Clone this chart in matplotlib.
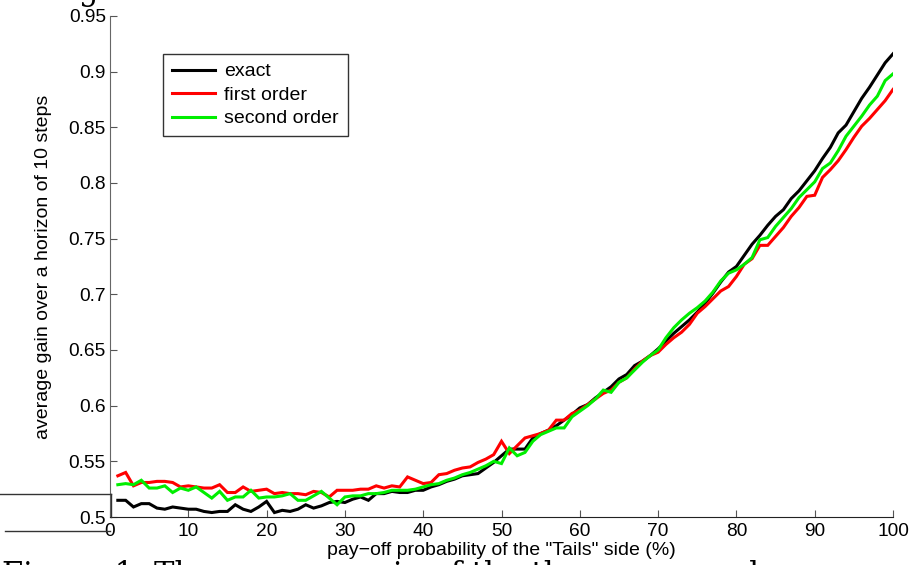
import numpy as np
import matplotlib
matplotlib.use("Agg")
import matplotlib.pyplot as plt
from matplotlib.lines import Line2D

x = list(range(1, 101))

exact = [0.515, 0.515, 0.509, 0.512, 0.512, 0.508, 0.507, 0.509, 0.508, 0.507,
         0.507, 0.505, 0.504, 0.505, 0.505, 0.511, 0.507, 0.505, 0.509, 0.514,
         0.504, 0.506, 0.505, 0.507, 0.511, 0.508, 0.510, 0.513, 0.514, 0.513,
         0.516, 0.518, 0.515, 0.521, 0.521, 0.523, 0.522, 0.522, 0.524, 0.524,
         0.527, 0.529, 0.532, 0.534, 0.537, 0.538, 0.539, 0.544, 0.549, 0.555,
         0.561, 0.561, 0.561, 0.571, 0.575, 0.578, 0.582, 0.587, 0.592, 0.598,
         0.601, 0.607, 0.612, 0.617, 0.624, 0.628, 0.636, 0.640, 0.645, 0.651,
         0.658, 0.665, 0.671, 0.677, 0.684, 0.692, 0.701, 0.711, 0.720, 0.725,
         0.735, 0.745, 0.753, 0.762, 0.770, 0.776, 0.786, 0.793, 0.802, 0.811,
         0.822, 0.832, 0.845, 0.852, 0.864, 0.876, 0.886, 0.897, 0.908, 0.916]

first_order = [0.537, 0.540, 0.528, 0.531, 0.531, 0.532, 0.532, 0.531, 0.527, 0.528,
               0.527, 0.526, 0.526, 0.529, 0.522, 0.522, 0.527, 0.523, 0.524, 0.525,
               0.521, 0.522, 0.521, 0.521, 0.520, 0.523, 0.522, 0.518, 0.524, 0.524,
               0.524, 0.525, 0.525, 0.528, 0.526, 0.528, 0.527, 0.536, 0.533, 0.530,
               0.531, 0.538, 0.539, 0.542, 0.544, 0.545, 0.549, 0.552, 0.556, 0.568,
               0.557, 0.564, 0.571, 0.573, 0.575, 0.578, 0.587, 0.587, 0.593, 0.596,
               0.601, 0.606, 0.611, 0.614, 0.621, 0.625, 0.633, 0.640, 0.645, 0.648,
               0.655, 0.661, 0.666, 0.673, 0.683, 0.689, 0.696, 0.703, 0.707, 0.716,
               0.727, 0.732, 0.744, 0.744, 0.752, 0.760, 0.770, 0.778, 0.788, 0.789,
               0.805, 0.812, 0.820, 0.830, 0.841, 0.851, 0.858, 0.866, 0.874, 0.884]

second_order = [0.529, 0.530, 0.529, 0.533, 0.526, 0.526, 0.528, 0.522, 0.526, 0.524,
                0.527, 0.522, 0.517, 0.523, 0.515, 0.518, 0.518, 0.524, 0.517, 0.518,
                0.518, 0.519, 0.521, 0.515, 0.515, 0.519, 0.523, 0.517, 0.511, 0.518,
                0.519, 0.519, 0.521, 0.521, 0.522, 0.524, 0.524, 0.524, 0.525, 0.527,
                0.529, 0.530, 0.533, 0.535, 0.538, 0.540, 0.543, 0.546, 0.550, 0.548,
                0.562, 0.555, 0.558, 0.568, 0.574, 0.577, 0.580, 0.580, 0.590, 0.595,
                0.600, 0.606, 0.614, 0.612, 0.621, 0.625, 0.632, 0.639, 0.645, 0.650,
                0.661, 0.670, 0.677, 0.683, 0.688, 0.694, 0.702, 0.712, 0.719, 0.722,
                0.727, 0.733, 0.749, 0.751, 0.761, 0.769, 0.777, 0.787, 0.794, 0.801,
                0.813, 0.818, 0.829, 0.842, 0.851, 0.860, 0.870, 0.878, 0.892, 0.898]

series_labels = ["exact", "first order", "second order"]
series_colors = ["#000000", "#ff0000", "#00ee00"]

xticks = [0, 10, 20, 30, 40, 50, 60, 70, 80, 90, 100]
yticks = [0.5, 0.55, 0.6, 0.65, 0.7, 0.75, 0.8, 0.85, 0.9, 0.95]
ytick_labels = ["0.5", "0.55", "0.6", "0.65", "0.7", "0.75", "0.8", "0.85", "0.9", "0.95"]
xlabel = 'pay\u2212off probability of the "Tails" side (%)'
ylabel = "average gain over a horizon of 10 steps"
caption = "Figure 1: The average gain of the three approaches compared with"

plt.rcParams['font.family'] = ['Liberation Sans', 'DejaVu Sans']

W, H = 911, 565
fig = plt.figure(figsize=(W / 100, H / 100), dpi=100)
L, R, B, T = 110, 893, 517, 16
ax = fig.add_axes([L / W, 1 - B / H, (R - L) / W, (B - T) / H])

for ys, lab, col in zip([exact, first_order, second_order], series_labels, series_colors):
    ax.plot(x, ys, color=col, lw=2.2, label=lab, solid_joinstyle='miter')

ax.set_xlim(0, 100)
ax.set_ylim(0.5, 0.95)
ax.set_xticks(xticks)
ax.set_xticklabels([str(v) for v in xticks])
ax.set_yticks(yticks)
ax.set_yticklabels(ytick_labels)
ax.tick_params(direction='in', length=5, width=0.8, labelsize=13.8, colors='#555555',
               labelcolor='black', pad=3)
ax.tick_params(axis='x', pad=4)
ax.spines['top'].set_visible(False)
ax.spines['right'].set_visible(False)
ax.spines['left'].set_color('#666666')
ax.spines['bottom'].set_color('#222222')
ax.set_xlabel(xlabel, fontsize=14, labelpad=2,
              bbox=dict(facecolor='white', edgecolor='none', pad=1))
ax.xaxis.label.set_zorder(5)
ax.set_ylabel(ylabel, fontsize=14, labelpad=12)

leg = ax.legend(loc='upper left', bbox_to_anchor=(0.068, 0.924), fontsize=14,
                frameon=True, fancybox=False, edgecolor='black', handlelength=2.2,
                borderpad=0.45, labelspacing=0.3, handletextpad=0.5, borderaxespad=0)
leg.get_frame().set_linewidth(1.0)

# page artifacts from the source document
fig.add_artist(Line2D([0, 111 / W], [1 - 494 / H, 1 - 494 / H], color='#333333', lw=1))
fig.add_artist(Line2D([111 / W, 111 / W], [1 - 494 / H, 1 - 517 / H], color='#333333', lw=1))
fig.add_artist(Line2D([5 / W, 110 / W], [1 - 531 / H, 1 - 531 / H], color='#333333', lw=1))
fig.text(78 / W, 1.0, "g", fontsize=22, family=['DejaVu Serif'], va='baseline', ha='left')
fig.text(2 / W, 1 - 560 / H, caption, fontsize=22, family=['DejaVu Serif'], va='top', ha='left',
         zorder=0)

fig.savefig("out.png", dpi=100)
